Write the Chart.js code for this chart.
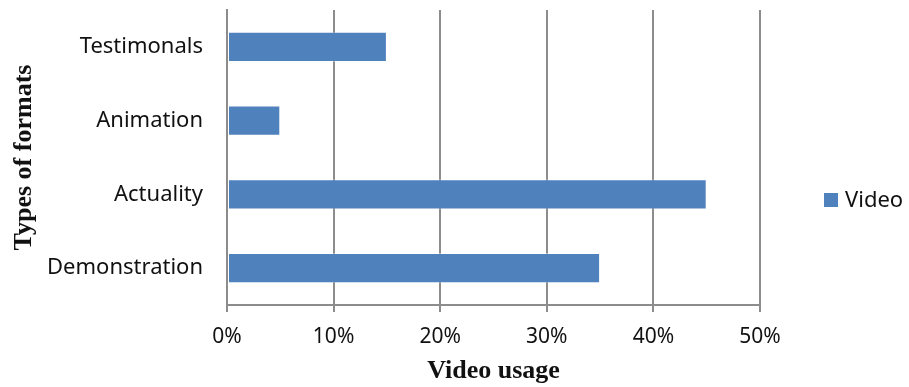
<!DOCTYPE html>
<html>
<head>
<meta charset="utf-8">
<script src="https://cdn.jsdelivr.net/npm/chart.js@4"></script>
<style>
  html, body { margin: 0; padding: 0; background: #fff; }
  #wrap { width: 909px; height: 387px; }
</style>
</head>
<body>
<div id="wrap"><canvas id="grafica"></canvas></div>
<script>
// formatos de video y porcentaje de uso
const formats = ['Testimonals', 'Animation', 'Actuality', 'Demonstration'];
const videoUsage = [15, 5, 45, 35];
const xTicks = [0, 10, 20, 30, 40, 50];

const gris = '#8c8c8c';
const azul = '#4f81bd';

// leyenda a la derecha del area de la grafica
const leyenda = {
    id: 'leyenda',
    afterDraw(chart) {
        const ctx = chart.ctx;
        const ds = chart.data.datasets[0];
        const x = chart.chartArea.right + 64;
        const y = 200;
        ctx.save();
        ctx.fillStyle = ds.backgroundColor;
        ctx.fillRect(x, y - 7, 14, 14);
        ctx.fillStyle = '#111';
        ctx.font = '22px "Noto Sans"';
        ctx.textBaseline = 'middle';
        ctx.fillText(ds.label, x + 21, y + 1);
        ctx.restore();
    }
};

document.addEventListener('DOMContentLoaded', () => {
    const ctx = document.getElementById('grafica').getContext('2d');
    new Chart(ctx, {
        type: 'bar',
        data: {
            labels: formats,
            datasets: [{
                label: 'Video',
                data: videoUsage,
                backgroundColor: azul,
                borderColor: 'rgba(255,255,255,0.35)',
                borderWidth: 1,
                borderSkipped: false,
                barPercentage: 0.41,
                categoryPercentage: 1
            }]
        },
        options: {
            indexAxis: 'y',
            responsive: true,
            maintainAspectRatio: false,
            animation: false,
            layout: { padding: { top: 10, right: 149, left: 0, bottom: 0 } },
            plugins: {
                legend: { display: false },
                tooltip: { enabled: false }
            },
            scales: {
                x: {
                    min: 0,
                    max: 50,
                    afterBuildTicks: (scale) => { scale.ticks = xTicks.map(v => ({ value: v })); },
                    afterFit: (scale) => {
                        scale.height = 82;
                        scale.paddingLeft = 0;
                        scale.paddingRight = 0;
                    },
                    grid: { color: gris, lineWidth: 2, tickLength: 7, tickColor: gris },
                    border: { color: gris, width: 2 },
                    ticks: {
                        callback: v => v + '%',
                        color: '#111',
                        padding: 12,
                        maxRotation: 0,
                        font: { family: 'Noto Sans', size: 21 }
                    },
                    title: {
                        display: true,
                        text: 'Video usage',
                        color: '#111',
                        padding: { top: 4, bottom: 0 },
                        font: { family: 'Liberation Serif', size: 26, weight: 'bold' }
                    }
                },
                y: {
                    afterFit: (scale) => {
                        scale.width = 227;
                        scale.paddingTop = 0;
                        scale.paddingBottom = 0;
                    },
                    grid: { display: false },
                    border: { color: gris, width: 2 },
                    ticks: {
                        color: '#111',
                        padding: 16,
                        font: { family: 'Noto Sans', size: 22 }
                    },
                    title: {
                        display: true,
                        text: 'Types of formats',
                        color: '#111',
                        padding: { top: 9, bottom: 0 },
                        font: { family: 'Liberation Serif', size: 26, weight: 'bold' }
                    }
                }
            }
        },
        plugins: [leyenda]
    });
});
</script>
</body>
</html>
